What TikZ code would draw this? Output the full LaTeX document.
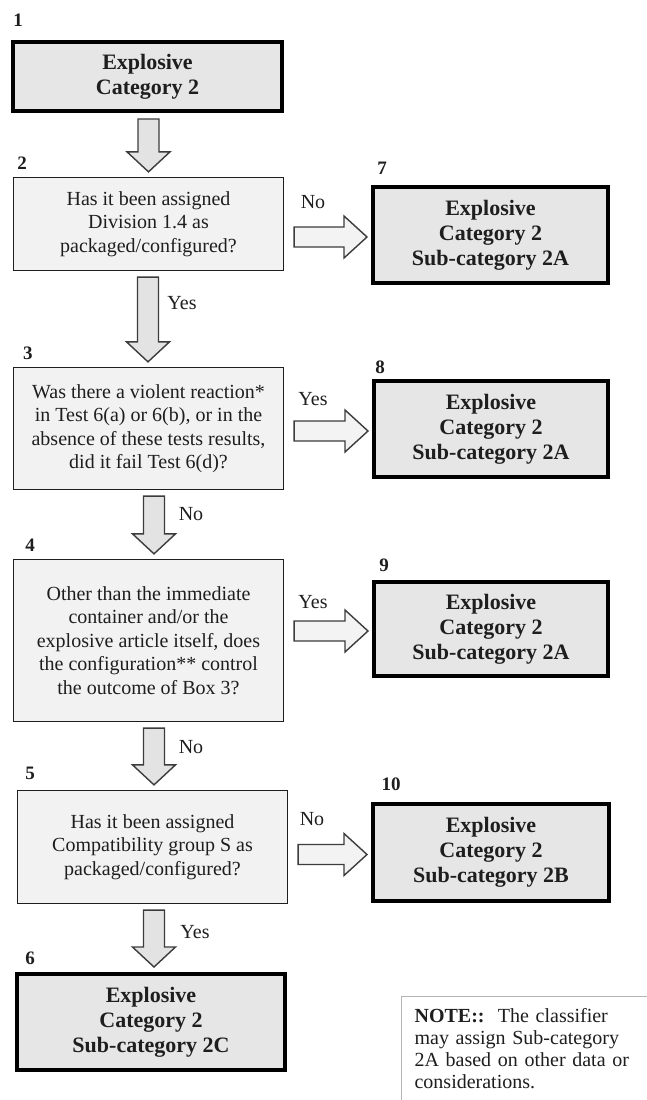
\documentclass[tikz,border=0pt]{standalone}
\usepackage{fontspec}
\setmainfont{Liberation Serif}
\usetikzlibrary{calc}
\definecolor{qfill}{HTML}{F2F2F2}
\definecolor{rfill}{HTML}{E6E6E6}
\definecolor{afill}{HTML}{E3E3E3}
\definecolor{hfill}{HTML}{F3F3F3}
\definecolor{edge}{HTML}{3C3C3C}
\definecolor{ink}{HTML}{1E1E1E}
\definecolor{notegray}{HTML}{B4B4B4}

% vertical block arrow: from node #1 (south) to node #2 (north) at x = #3
\newcommand{\vblockarrow}[3]{%
  \draw[varrow] let \p1=(#1.south), \p2=(#2.north) in
    (#3-10.5,\y1-6) -- (#3+10.5,\y1-6) -- (#3+10.5,\y2+25) -- (#3+21.5,\y2+25)
    -- (#3,\y2+5) -- (#3-21.5,\y2+25) -- (#3-10.5,\y2+25) -- cycle;}
% horizontal block arrow: from node #1 (east) to node #2 (west)
\newcommand{\hblockarrow}[2]{%
  \draw[harrow] let \p1=(#1.east), \p2=(#2.west), \p3=(#2.center) in
    (\x1+10,\y3+8) -- (\x2-27,\y3+8) -- (\x2-27,\y3+19) -- (\x2-4,\y3-2)
    -- (\x2-27,\y3-23) -- (\x2-27,\y3-12) -- (\x1+10,\y3-12) -- cycle;}

\begin{document}
\begin{tikzpicture}[x=1pt,y=-1pt,
  qbox/.style={draw=ink, line width=1.3pt, fill=qfill, text=ink, align=center,
    font=\fontsize{20}{23.5}\selectfont, inner sep=0pt},
  rbox/.style={draw=black, line width=4pt, fill=rfill, text=ink, align=center,
    font=\fontsize{22}{25}\selectfont\bfseries, inner sep=0pt},
  numlbl/.style={font=\fontsize{19}{19}\selectfont\bfseries, text=ink, inner sep=0pt},
  armlbl/.style={font=\fontsize{20}{20}\selectfont, text=ink, inner sep=0pt},
  varrow/.style={draw=edge, line width=1.4pt, fill=afill},
  harrow/.style={draw=edge, line width=1.4pt, fill=hfill},
  notebox/.style={draw=notegray, line width=1.2pt, fill=white, text=ink, align=left,
    anchor=north west, text width=236pt, inner xsep=13pt, inner ysep=12pt,
    font=\fontsize{20}{22}\selectfont}
]
\useasboundingbox[fill=white] (0,0) rectangle (646,1100);

% boxes
\node[rbox, minimum width=269, minimum height=69] (b1) at (147.5,76.5) {Explosive\\Category 2};
\node[qbox, minimum width=270, minimum height=93] (b2) at (148.5,224)
  {Has it been assigned\\Division 1.4 as\\packaged/configured?};
\node[qbox, minimum width=270, minimum height=122] (b3) at (148.5,428.5)
  {Was there a violent reaction*\\in Test 6(a) or 6(b), or in the\\absence of these tests results,\\did it fail Test 6(d)?};
\node[qbox, minimum width=270, minimum height=162] (b4) at (148.5,640.5)
  {Other than the immediate\\container and/or the\\explosive article itself, does\\the configuration** control\\the outcome of Box 3?};
\node[qbox, minimum width=270, minimum height=113] (b5) at (152.5,847)
  {Has it been assigned\\Compatibility group S as\\packaged/configured?};
\node[rbox, minimum width=268, minimum height=96] (b6) at (151,1022)
  {Explosive\\Category 2\\Sub-category 2C};
\node[rbox, minimum width=235, minimum height=96] (b7) at (490.5,235)
  {Explosive\\Category 2\\Sub-category 2A};
\node[rbox, minimum width=234, minimum height=96] (b8) at (491,429)
  {Explosive\\Category 2\\Sub-category 2A};
\node[rbox, minimum width=234, minimum height=94] (b9) at (491,629)
  {Explosive\\Category 2\\Sub-category 2A};
\node[rbox, minimum width=236, minimum height=97] (b10) at (491,852.5)
  {Explosive\\Category 2\\Sub-category 2B};

% box numbers
\node[numlbl] (n1) at (18,20) {1};
\node[numlbl] (n2) at (22,163) {2};
\node[numlbl] (n3) at (28,353) {3};
\node[numlbl] (n4) at (30,545) {4};
\node[numlbl] (n5) at (30,773) {5};
\node[numlbl] (n6) at (30,958) {6};
\node[numlbl] (n7) at (382,168) {7};
\node[numlbl] (n8) at (380,367) {8};
\node[numlbl] (n9) at (384,565) {9};
\node[numlbl] (n10) at (391,784) {10};

% block arrows
\vblockarrow{b1}{b2}{148.5}
\vblockarrow{b2}{b3}{148}
\vblockarrow{b3}{b4}{154}
\vblockarrow{b4}{b5}{154}
\vblockarrow{b5}{b6}{154}
\hblockarrow{b2}{b7}
\hblockarrow{b3}{b8}
\hblockarrow{b4}{b9}
\hblockarrow{b5}{b10}

% arrow labels
\node[armlbl] (l27) at (313,202) {No};
\node[armlbl] (l38) at (313,399) {Yes};
\node[armlbl] (l49) at (313,602) {Yes};
\node[armlbl] (l510) at (312,819) {No};
\node[armlbl] (l23) at (182,303) {Yes};
\node[armlbl] (l34) at (191,514) {No};
\node[armlbl] (l45) at (191,747) {No};
\node[armlbl] (l56) at (195,932) {Yes};

% note
\node[notebox] (note) at (401,996)
  {\textbf{NOTE::}\ \ The classifier\\may assign Sub-category\\2A based on other data or\\considerations.\\[14pt]};
\end{tikzpicture}
\end{document}
